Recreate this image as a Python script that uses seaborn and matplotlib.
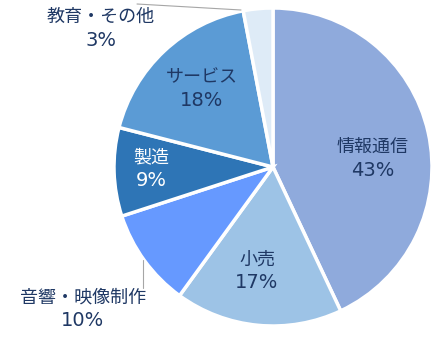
import matplotlib
matplotlib.use("Agg")
import matplotlib.pyplot as plt
import seaborn as sns

categories = ["情報通信", "小売", "音響・映像制作", "製造", "サービス", "教育・その他"]
values = [43, 17, 10, 9, 18, 3]

colors = sns.color_palette(["#8FAADC", "#9DC3E6", "#6699FF", "#2E75B6", "#5B9BD5", "#DEEBF7"])
text_colors = ["#1F3864", "#1F3864", "#1F3864", "#FFFFFF", "#1F3864", "#1F3864"]
# label centers in pixel coordinates (x, y of category line from top)
label_pos = [(373, 147), (257, 260), (83, 298), (151, 157), (202, 77), (101, 17)]

sns.set_theme(style="white")
plt.rcParams['font.family'] = ['Noto Sans CJK JP', 'DejaVu Sans']

W, H = 443, 339
fig = plt.figure(figsize=(W / 100, H / 100), dpi=100)
ax = fig.add_axes([0, 0, 1, 1])

cx, cy, r = 273, H - 167, 159
ax.pie(values, colors=colors, startangle=90, counterclock=False,
       center=(cx, cy), radius=r, frame=True,
       wedgeprops=dict(edgecolor="white", linewidth=2.5))
ax.set_xlim(0, W)
ax.set_ylim(0, H)
ax.set_aspect("auto")
ax.axis("off")

for cat, v, (lx, ly), tc in zip(categories, values, label_pos, text_colors):
    ax.text(lx, H - ly, cat, ha="center", va="center",
            fontsize=13, color=tc, family=['Noto Sans CJK JP', 'DejaVu Sans'])
    ax.text(lx, H - ly - 23, f"{v}%", ha="center", va="center",
            fontsize=14, color=tc, family=['DejaVu Sans'])

# leader lines
ax.plot([137, 241], [H - 4, H - 10], color="#A6A6A6", lw=0.8)
ax.plot([143, 143], [H - 260, H - 288], color="#A6A6A6", lw=0.8)

fig.savefig("out.png", dpi=100)
